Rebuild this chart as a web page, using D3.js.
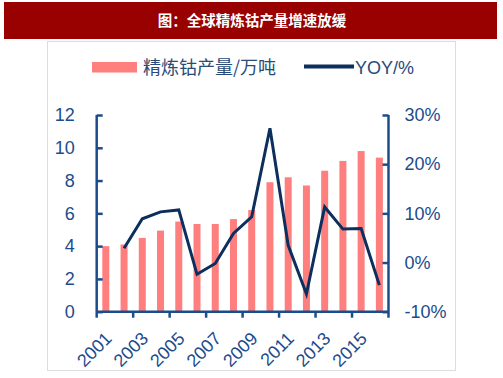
<!DOCTYPE html>
<html><head><meta charset="utf-8">
<script src="https://cdn.jsdelivr.net/npm/d3@7/dist/d3.min.js"></script>
<style>
html,body{margin:0;padding:0;background:#fff;}
svg{display:block;}
</style></head>
<body>
<script>
const years = ["2001","2002","2003","2004","2005","2006","2007","2008","2009","2010","2011","2012","2013","2014","2015","2016"];
const output = [4.0,4.1,4.5,4.95,5.5,5.35,5.35,5.65,6.2,7.9,8.2,7.7,8.6,9.2,9.8,9.4];
const yoyYears = ["2002","2003","2004","2005","2006","2007","2008","2009","2010","2011","2012","2013","2014","2015","2016"];
const yoy = [2.9,8.9,10.3,10.7,-2.4,-0.2,5.9,9.3,27.3,3.5,-6.4,11.3,6.8,6.9,-4.6];
const leftTicks = [0,2,4,6,8,10,12];
const rightTicks = [-10,0,10,20,30];
const xLabels = ["2001","2003","2005","2007","2009","2011","2013","2015"];
const title = "图：全球精炼钴产量增速放缓";
const legendBar = "精炼钴产量/万吨";
const legendLine = "YOY/%";

const W = 503, H = 378;
const axisColor = "#1C4C8C", textColor = "#1C4C8C", barColor = "#FF7F7F", lineColor = "#0C2F5E";
const latin = "'Liberation Sans', Arial, sans-serif";
const cjk = "'Noto Sans CJK SC', sans-serif";

const svg = d3.select("body").append("svg").attr("width", W).attr("height", H);

// frame
svg.append("rect").attr("x", 47.5).attr("y", 41.5).attr("width", 408).attr("height", 329)
  .attr("fill", "none").attr("stroke", "#dddddd").attr("stroke-width", 1);

// title bar
svg.append("rect").attr("x", 4).attr("y", 2).attr("width", 493).attr("height", 37).attr("fill", "#990000");
svg.append("text").attr("x", 252).attr("y", 26).attr("text-anchor", "middle")
  .attr("font-family", cjk).attr("font-weight", "bold").attr("font-size", "14.5px").attr("fill", "#fff")
  .text(title);

const x0 = 96.7, x1 = 388.5, yTop = 115, yBot = 311.7;
const x = d3.scaleBand().domain(years).range([x0, x1]).paddingInner(0).paddingOuter(0);
const yL = d3.scaleLinear().domain([0, 12]).range([yBot, yTop]);
const yR = d3.scaleLinear().domain([-10, 30]).range([yBot, yTop]);
const bw = 7;

// bars
svg.append("g").selectAll("rect").data(years).join("rect")
  .attr("x", (d) => x(d) + x.bandwidth()/2 - bw/2)
  .attr("width", bw)
  .attr("y", (d, i) => yL(output[i]))
  .attr("height", (d, i) => yL(0) - yL(output[i]))
  .attr("fill", barColor);

// left axis
const gL = svg.append("g").attr("transform", `translate(${x0},0)`)
  .call(d3.axisLeft(yL).tickValues(leftTicks).tickSize(-6).tickSizeOuter(0).tickPadding(22));
gL.select(".domain").attr("stroke", axisColor).attr("stroke-width", 2.5).attr("d", `M0,${yTop}V${yBot+6}`);
gL.selectAll(".tick line").attr("stroke", axisColor).attr("stroke-width", 2.5);
gL.selectAll(".tick text").attr("fill", textColor).attr("font-family", latin).attr("font-size", "18px");

// right axis
const gR = svg.append("g").attr("transform", `translate(${x1},0)`)
  .call(d3.axisRight(yR).tickValues(rightTicks).tickSize(-6).tickSizeOuter(0).tickPadding(16).tickFormat(d => d + "%"));
gR.select(".domain").attr("stroke", axisColor).attr("stroke-width", 2.5).attr("d", `M0,${yTop}V${yBot+6}`);
gR.selectAll(".tick line").attr("stroke", axisColor).attr("stroke-width", 2.5);
gR.selectAll(".tick text").attr("fill", textColor).attr("font-family", latin).attr("font-size", "18px");

// bottom axis
const gB = svg.append("g").attr("transform", `translate(0,${yBot})`);
gB.append("line").attr("x1", x0).attr("x2", x1).attr("y1", 0).attr("y2", 0)
  .attr("stroke", axisColor).attr("stroke-width", 2.5);
const tickPos = years.filter((d, i) => i % 2 === 0 && i > 0).map(d => x(d));
gB.selectAll("line.tk").data(tickPos).join("line").attr("class", "tk")
  .attr("x1", d => d).attr("x2", d => d).attr("y1", 0).attr("y2", 6)
  .attr("stroke", axisColor).attr("stroke-width", 2.5);
gB.selectAll("text").data(xLabels).join("text")
  .attr("transform", d => `translate(${x(d) + x.bandwidth()/2 + 7},${28}) rotate(-45)`)
  .attr("text-anchor", "end")
  .attr("fill", textColor).attr("font-family", latin).attr("font-size", "18px")
  .text(d => d);

// line
const line = d3.line().x((d, i) => x(yoyYears[i]) + x.bandwidth()/2).y(d => yR(d));
svg.append("path").datum(yoy).attr("d", line).attr("fill", "none")
  .attr("stroke", lineColor).attr("stroke-width", 3).attr("stroke-linejoin", "miter");

// legend
svg.append("rect").attr("x", 92).attr("y", 62).attr("width", 45).attr("height", 10.5).attr("fill", barColor);
svg.append("text").attr("x", 143).attr("y", 74).attr("font-family", cjk).attr("font-size", "18px")
  .attr("fill", "#2A4A78").text(legendBar);
svg.append("line").attr("x1", 304).attr("x2", 354).attr("y1", 66.5).attr("y2", 66.5)
  .attr("stroke", lineColor).attr("stroke-width", 4);
svg.append("text").attr("x", 355).attr("y", 73.5).attr("font-family", latin).attr("font-size", "18px")
  .attr("fill", "#2A4A78").text(legendLine);
</script>
</body></html>
